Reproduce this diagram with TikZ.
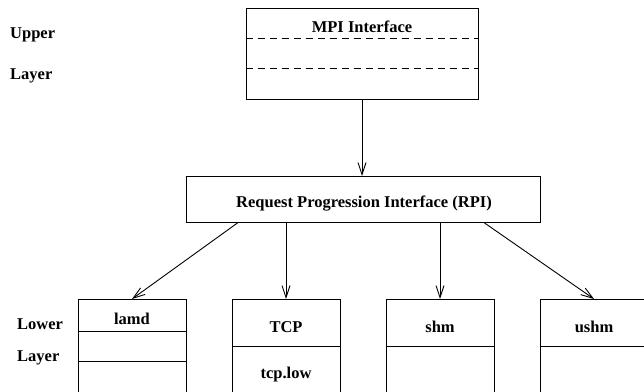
\documentclass[tikz,border=0pt]{standalone}
\usepackage{fontspec}
\setmainfont{Liberation Serif}
\usetikzlibrary{arrows.meta}

\begin{document}
\begin{tikzpicture}[x=1pt, y=-1pt,
		box/.style={draw, line width=0.9pt, inner sep=0pt, minimum width=108pt, minimum height=130pt, anchor=north},
		lbl/.style={font=\fontsize{16.5}{19}\selectfont\bfseries, inner sep=0pt, anchor=base},
		arr/.style={-{Straight Barb[length=12pt, width=8pt]}, line width=0.9pt}]
			\useasboundingbox (0,0) rectangle (644,391);
			\clip (0,0) rectangle (644,391);
			\node[box, minimum width=232pt, minimum height=91pt] (mpi) at (362,8) {};
			\draw[line width=0.9pt, dash pattern=on 7pt off 5pt] (mpi.west |- 0,38) -- (mpi.east |- 0,38);
			\draw[line width=0.9pt, dash pattern=on 7pt off 5pt] (mpi.west |- 0,68) -- (mpi.east |- 0,68);
			\node[lbl] (mpitext) at (362,32) {MPI Interface};
			\node[lbl, anchor=base west] (upper) at (10,38) {Upper};
			\node[lbl, anchor=base west] (upperlayer) at (10,79) {Layer};
			\node[box, minimum width=354pt, minimum height=46pt] (rpi) at (363,176) {};
			\node[lbl] (rpitext) at (364,207) {Request Progression Interface (RPI)};
			\draw[arr] (mpi.south) -- (mpi.south |- rpi.north);
			\node[box] (lamd) at (132,299) {};
			\node[box] (tcp) at (286,299) {};
			\node[box] (shm) at (440,299) {};
			\node[box] (ushm) at (594,299) {};
			\draw[line width=0.9pt] (lamd.west |- 0,331) -- (lamd.east |- 0,331);
			\draw[line width=0.9pt] (lamd.west |- 0,361) -- (lamd.east |- 0,361);
			\draw[line width=0.9pt] (tcp.west |- 0,346) -- (tcp.east |- 0,346);
			\draw[line width=0.9pt] (shm.west |- 0,346) -- (shm.east |- 0,346);
			\draw[line width=0.9pt] (ushm.west |- 0,346) -- (ushm.east |- 0,346);
			\node[lbl] (lamdtext) at (132,324) {lamd};
			\node[lbl] (tcptext) at (286,332) {TCP};
			\node[lbl] (tcplow) at (286,378) {tcp.low};
			\node[lbl] (shmtext) at (440,332) {shm};
			\node[lbl] (ushmtext) at (594,332) {ushm};
			\node[lbl, anchor=base west] (lower) at (17,329) {Lower};
			\node[lbl, anchor=base west] (lowerlayer) at (17,361) {Layer};
			\draw[arr] ([xshift=52pt]rpi.south west) -- (lamd.north);
			\draw[arr] (rpi.south -| tcp.north) -- (tcp.north);
			\draw[arr] (rpi.south -| shm.north) -- (shm.north);
			\draw[arr] ([xshift=-56pt]rpi.south east) -- (ushm.north);
		\end{tikzpicture}
\end{document}
